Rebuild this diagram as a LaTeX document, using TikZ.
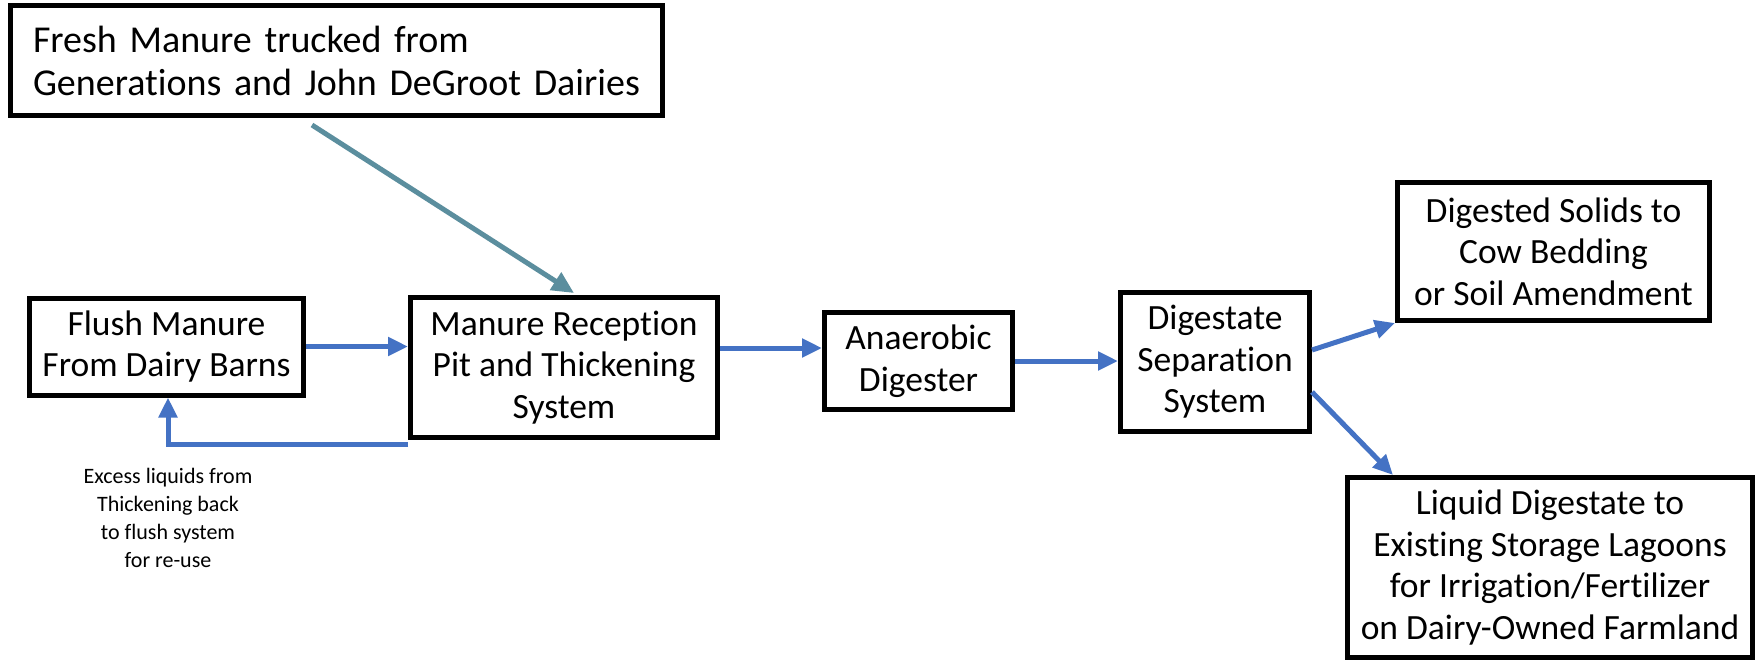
\documentclass[tikz,border=0pt]{standalone}
\usepackage{fontspec}
\setmainfont[RawFeature=-liga]{Carlito}
\usetikzlibrary{arrows.meta,calc}
\definecolor{flowblue}{RGB}{68,114,196}
\definecolor{flowteal}{RGB}{91,142,158}
\begin{document}
\begin{tikzpicture}[x=1pt,y=-1pt,
  box/.style={draw=black,line width=5pt,rectangle,inner sep=2pt,align=center,
    font=\fontsize{35.5}{41.5}\selectfont},
  flow/.style={draw=flowblue,line width=5pt,-{Triangle[length=20pt,width=18pt]}},
  tealflow/.style={draw=flowteal,line width=5pt,-{Triangle[length=22pt,width=20pt]}},
  note/.style={align=center,font=\fontsize{22}{28}\selectfont}]
\useasboundingbox (0,0) rectangle (1764,662);
\fill[white] (0,0) rectangle (1764,662);

\node[box,align=left,text width=607pt,inner xsep=22.5pt,inner ysep=0pt,minimum height=110pt,
  font=\fontsize{38}{43}\selectfont] (fresh) at (336.5,60.5)
  {\mbox{Fresh Manure trucked from}\\\mbox{Generations and John DeGroot Dairies}};
\node[box,minimum width=274pt,minimum height=97pt] (flush) at (166.5,346.5)
  {Flush Manure\\From Dairy Barns};
\node[box,minimum width=307pt,minimum height=140pt] (pit) at (564,367.5)
  {Manure Reception\\Pit and Thickening\\System};
\node[box,minimum width=188pt,minimum height=97pt] (ad) at (918.5,361)
  {Anaerobic\\Digester};
\node[box,minimum width=189pt,minimum height=139pt] (sep) at (1215,362)
  {Digestate\\Separation\\System};
\node[box,minimum width=312pt,minimum height=138pt] (solids) at (1553.5,251.5)
  {Digested Solids to\\Cow Bedding\\or Soil Amendment};
\node[box,minimum width=405pt,minimum height=180pt] (liquid) at (1550,567.5)
  {Liquid Digestate to\\Existing Storage Lagoons\\for Irrigation/Fertilizer\\on Dairy-Owned Farmland};

\node[note] (excess) at (168,518)
  {Excess liquids from\\Thickening back\\to flush system\\for re-use};

% connectors
\coordinate (tealstart) at (312,125);
\coordinate (tealend) at (574,293);
\draw[tealflow] (tealstart) -- (tealend);

\draw[flow] (flush.east) -- (flush.east -| pit.west);
\coordinate (rowA) at (0,348);
\draw[flow] (pit.east |- rowA) -- (ad.west |- rowA);
\draw[flow] (ad.east) -- (ad.east -| sep.west);

\coordinate (backy) at (0,444);
\coordinate (backx) at (168,0);
\draw[flow] (pit.west |- backy) -- (backx |- backy) -- (backx |- flush.south);

\coordinate (solidsout) at (1313,350);
\draw[flow] (sep.east |- solidsout) -- (solids.south west);
\coordinate (liqout) at (1312,392);
\coordinate (liqin) at (1393,0);
\draw[flow] (sep.east |- liqout) -- (liqin |- liquid.north);
\end{tikzpicture}
\end{document}
